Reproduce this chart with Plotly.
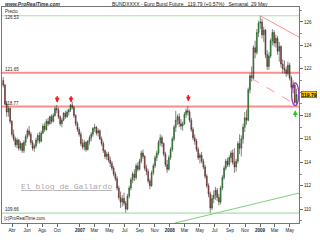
import pandas as pd
import plotly.graph_objects as go

# ---------------- data (weekly candles, Euro Bund Future) ----------------
open_2006 = [121.0,120.6,119.0,118.3,118.6,117.5,116.4,116.0,115.5,115.9,115.2,115.6,115.0,115.7,116.2,116.7,116.4,115.7,115.2,115.4,115.9,116.3,115.8,116.5,117.1,116.8,117.5,117.3,117.9,117.5,118.0,118.6,118.5,117.9,117.3,117.6,118.2,117.9,118.3,118.5,118.9,118.7,118.0,117.3,116.8]
high_2006 = [121.3,120.7,119.2,118.8,118.7,117.6,116.8,116.2,116.1,116.0,115.8,115.7,115.9,116.4,116.9,117.1,116.6,115.9,115.6,116.1,116.5,116.6,116.7,117.3,117.4,117.7,117.8,118.0,118.1,118.2,118.8,118.9,118.7,118.0,117.8,118.3,118.4,118.5,118.6,119.0,119.2,118.8,118.1,117.5,117.0]
low_2006 = [120.4,118.9,117.9,117.9,117.3,116.2,115.8,115.3,115.2,115.0,115.0,114.8,114.8,115.4,116.0,116.2,115.5,115.0,114.9,115.2,115.6,115.6,115.7,116.4,116.6,116.7,117.1,117.2,117.3,117.4,117.9,118.2,117.7,117.1,117.0,117.5,117.7,117.8,118.0,118.3,118.5,117.8,117.1,116.6,116.2]
close_2006 = [120.6,119.0,118.3,118.6,117.5,116.4,116.0,115.5,115.9,115.2,115.6,115.0,115.7,116.2,116.7,116.4,115.7,115.2,115.4,115.9,116.3,115.8,116.5,117.1,116.8,117.5,117.3,117.9,117.5,118.0,118.6,118.5,117.9,117.3,117.6,118.2,117.9,118.3,118.5,118.9,118.7,118.0,117.3,116.8,116.4]

open_2007 = [116.4,115.6,115.3,115.7,115.1,115.8,116.1,116.4,116.9,117.0,116.5,116.7,116.0,115.6,115.0,114.5,114.7,114.2,113.9,113.5,113.0,112.6,111.8,111.0,110.6,110.9,110.5,110.0,111.1,111.8,112.5,113.0,112.7,113.7,113.4,114.1,114.8,114.5,113.5,113.2,112.4,112.0,113.1,113.7,114.4,114.8,115.7,116.1,115.6,114.7,113.8,113.4]
high_2007 = [116.6,116.0,115.9,115.8,115.9,116.3,116.6,117.0,117.3,117.1,116.9,116.8,116.2,115.8,115.1,114.9,114.9,114.5,114.1,113.7,113.2,112.8,112.0,111.5,111.2,111.4,110.7,111.3,112.0,112.7,113.2,113.4,113.9,114.0,114.3,115.0,115.1,114.6,113.8,113.4,112.6,113.3,113.9,114.6,115.0,115.9,116.4,116.3,115.7,114.9,114.2,114.6]
low_2007 = [115.4,115.1,115.0,114.9,115.0,115.5,115.8,116.2,116.6,116.3,116.2,115.9,115.4,114.8,114.3,114.2,114.0,113.6,113.3,112.8,112.4,111.6,110.8,110.1,110.2,110.3,109.7,109.9,110.9,111.6,112.2,112.4,112.5,113.2,113.3,113.9,114.3,113.3,112.9,112.2,111.7,111.9,112.9,113.5,114.1,114.6,115.4,115.3,114.5,113.6,113.1,113.3]
close_2007 = [115.6,115.3,115.7,115.1,115.8,116.1,116.4,116.9,117.0,116.5,116.7,116.0,115.6,115.0,114.5,114.7,114.2,113.9,113.5,113.0,112.6,111.8,111.0,110.6,110.9,110.5,110.0,111.1,111.8,112.5,113.0,112.7,113.7,113.4,114.1,114.8,114.5,113.5,113.2,112.4,112.0,113.1,113.7,114.4,114.8,115.7,116.1,115.6,114.7,113.8,113.4,114.4]

open_2008 = [114.4,115.1,116.0,117.0,117.6,117.9,117.3,117.1,117.3,118.1,118.4,118.3,117.6,116.8,116.1,115.8,115.1,114.4,114.6,114.1,113.6,112.8,112.0,111.3,110.1,110.9,111.2,111.6,111.0,110.6,111.8,112.7,113.5,114.1,113.8,114.4,114.8,114.0,113.6,114.1,115.6,115.2,116.0,117.0,117.8,117.6,120.2,121.4,121.2,123.8,123.4,125.1]
high_2008 = [115.3,116.2,117.2,118.4,118.1,118.2,117.7,117.5,118.3,118.6,118.8,118.5,117.8,117.0,116.4,116.0,115.3,114.8,114.9,114.3,113.8,113.0,112.2,111.5,111.2,111.6,111.9,111.8,111.3,112.0,112.9,113.7,114.3,114.4,114.6,115.0,115.1,115.2,114.3,115.8,116.4,116.3,117.3,118.3,118.5,120.4,121.6,122.2,124.0,124.4,125.4,126.1]
low_2008 = [114.2,114.9,115.8,116.6,117.2,117.0,116.8,116.7,117.2,117.8,118.0,117.4,116.6,115.9,115.5,114.9,114.2,113.9,113.9,113.4,112.6,111.8,111.0,109.7,109.9,110.5,110.8,110.7,110.3,110.4,111.6,112.5,113.3,113.6,113.6,114.0,113.8,113.1,113.2,113.9,114.7,114.5,115.6,116.6,117.2,117.5,119.9,120.9,121.0,122.9,123.2,124.7]
close_2008 = [115.1,116.0,117.0,117.6,117.9,117.3,117.1,117.3,118.1,118.4,118.3,117.6,116.8,116.1,115.8,115.1,114.4,114.6,114.1,113.6,112.8,112.0,111.3,110.1,110.9,111.2,111.6,111.0,110.6,111.8,112.7,113.5,114.1,113.8,114.4,114.8,114.0,113.6,114.1,115.6,115.2,116.0,117.0,117.8,117.6,120.2,121.4,121.2,123.8,123.4,125.1,125.9]

open_2009 = [125.9,126.0,124.9,125.3,123.2,122.2,123.1,124.4,125.1,124.2,124.6,123.5,123.9,122.4,122.0,121.9,121.6,122.3,121.2,120.4,120.6,119.11]
high_2009 = [126.53,126.3,125.6,125.4,123.6,123.4,124.6,125.4,125.3,124.9,124.8,124.3,124.0,122.8,122.7,122.2,122.6,122.5,121.4,121.0,120.8,120.3]
low_2009 = [125.4,124.6,124.3,122.9,121.9,121.9,122.9,124.0,123.9,123.8,123.2,122.6,122.1,121.6,121.6,121.3,121.4,121.0,120.2,119.9,119.0,118.85]
close_2009 = [126.0,124.9,125.3,123.2,122.2,123.1,124.4,125.1,124.2,124.6,123.5,123.9,122.4,122.0,121.9,121.6,122.3,121.2,120.4,120.6,119.11,119.79]

first_week = "2006-02-24"

# horizontal levels
high_level = 126.53
low_level = 109.66
red_levels = [121.65, 118.77]

# trend lines (date, price)
red_trend_dates = ["2009-01-02", "2009-06-08"]
red_trend_prices = [126.53, 124.7]
dash_trend_dates = ["2008-11-26", "2009-05-24"]
dash_trend_prices = [121.2, 118.95]
green_trend_dates = ["2008-01-21", "2009-06-08"]
green_trend_prices = [108.8, 111.37]

# signal arrows
down_arrow_dates = ["2006-10-01", "2006-11-26", "2008-03-16"]
down_arrow_prices = [119.1, 119.1, 119.2]
up_arrow_dates = ["2009-05-24"]
up_arrow_prices = [118.45]

# highlight ellipse
ellipse_dates = ["2009-05-09", "2009-06-07"]
ellipse_prices = [118.85, 120.8]

last_price = 119.79

tick_dates = ["2006-04-01", "2006-06-01", "2006-08-01", "2006-10-01", "2007-01-01", "2007-03-01",
              "2007-05-01", "2007-07-01", "2007-09-01", "2007-11-01", "2008-01-01", "2008-03-01",
              "2008-05-01", "2008-07-01", "2008-09-01", "2008-11-01", "2009-01-01", "2009-03-01",
              "2009-05-01"]
tick_text = ["Abr", "Jun", "Ago", "Oct", "<b>2007</b>", "Mar", "May", "Jul", "Sep", "Nov",
             "<b>2008</b>", "Mar", "May", "Jul", "Sep", "Nov", "<b>2009</b>", "Mar", "May"]
y_ticks = [110, 112, 114, 116, 118, 122, 124, 126]

x_range = ["2006-02-19", "2009-06-08"]
y_range = [108.81, 127.28]

# ---------------- figure ----------------
opens = open_2006 + open_2007 + open_2008 + open_2009
highs = high_2006 + high_2007 + high_2008 + high_2009
lows = low_2006 + low_2007 + low_2008 + low_2009
closes = close_2006 + close_2007 + close_2008 + close_2009
dates = pd.date_range(first_week, periods=len(closes), freq="W-FRI")

fig = go.Figure()
fig.add_trace(go.Candlestick(
    x=dates, open=opens, high=highs, low=lows, close=closes,
    increasing=dict(fillcolor="#1fb81f", line=dict(color="#264026", width=0.6)),
    decreasing=dict(fillcolor="#c83a3a", line=dict(color="#402626", width=0.6)),
    whiskerwidth=0, hoverinfo="skip", showlegend=False))

shapes = []
for lv in [high_level, low_level]:
    shapes.append(dict(type="line", xref="paper", x0=0, x1=1, yref="y", y0=lv, y1=lv,
                       line=dict(color="#a8e0a8", width=1.2), layer="below"))
for lv in red_levels:
    shapes.append(dict(type="line", xref="paper", x0=0, x1=1, yref="y", y0=lv, y1=lv,
                       line=dict(color="#ff8c8c", width=2), layer="below"))
shapes.append(dict(type="line", xref="x", yref="y", x0=red_trend_dates[0], x1=red_trend_dates[1],
                   y0=red_trend_prices[0], y1=red_trend_prices[1],
                   line=dict(color="#ff9090", width=1)))
shapes.append(dict(type="line", xref="x", yref="y", x0=dash_trend_dates[0], x1=dash_trend_dates[1],
                   y0=dash_trend_prices[0], y1=dash_trend_prices[1],
                   line=dict(color="#ff9a9a", width=1, dash="dash")))
shapes.append(dict(type="line", xref="x", yref="y", x0=green_trend_dates[0], x1=green_trend_dates[1],
                   y0=green_trend_prices[0], y1=green_trend_prices[1],
                   line=dict(color="#7ccf7c", width=1)))
shapes.append(dict(type="circle", xref="x", yref="y", x0=ellipse_dates[0], x1=ellipse_dates[1],
                   y0=ellipse_prices[0], y1=ellipse_prices[1],
                   line=dict(color="#9a36c8", width=1.3)))

small = dict(family="Liberation Sans, Arial", size=4.5, color="#222")
ann = []
# top-left header block: "Precio" over the high level value
ann.append(dict(xref="paper", yref="paper", x=0.004, y=1.0, xanchor="left", yanchor="top",
                text="Precio<br>%.2f" % high_level, showarrow=False, align="left", yshift=0.5,
                font=small))
for lv in [low_level] + red_levels:
    ann.append(dict(xref="paper", yref="y", x=0.004, y=lv, text="%.2f" % lv, showarrow=False,
                    xanchor="left", yanchor="bottom", font=small, yshift=-1))
for d, p in zip(down_arrow_dates, down_arrow_prices):
    ann.append(dict(xref="x", yref="y", x=d, y=p, text="", showarrow=True, ax=0, ay=-8,
                    arrowhead=2, arrowsize=0.6, arrowwidth=1.6, arrowcolor="#ee1c1c"))
for d, p in zip(up_arrow_dates, up_arrow_prices):
    ann.append(dict(xref="x", yref="y", x=d, y=p, text="", showarrow=True, ax=0, ay=8,
                    arrowhead=2, arrowsize=0.6, arrowwidth=1.6, arrowcolor="#22cc22"))
ann.append(dict(xref="paper", yref="y", x=1, y=last_price, xanchor="left", xshift=2,
                text="<b>%.2f</b>" % last_price, showarrow=False, bgcolor="#ffcc00",
                bordercolor="#333", borderwidth=0.5, borderpad=0,
                font=dict(family="Liberation Sans, Arial", size=5, color="#000")))
ann.append(dict(xref="paper", yref="paper", x=0.057, y=0.171, xanchor="left", yanchor="middle",
                text="<u>El blog de Gallardo</u>", showarrow=False,
                font=dict(family="Liberation Mono, Courier New", size=8, color="#a8a8a8")))
ann.append(dict(xref="paper", yref="paper", x=0.003, y=1.016, xanchor="left", yanchor="middle",
                text="<b><i>www.ProRealTime.com</i></b>", showarrow=False,
                font=dict(family="Liberation Sans, Arial", size=5, color="#333")))
ann.append(dict(xref="paper", yref="paper", x=0.364, y=1.016, xanchor="left", yanchor="middle",
                text="BUNDXXXX - Euro Bund Future\u00a0\u00a0\u00a0%.2f (+0.57%%)\u00a0\u00a0\u00a0Semanal\u00a0\u00a029 May" % last_price,
                showarrow=False, font=dict(family="Liberation Sans, Arial", size=5, color="#222")))
ann.append(dict(xref="paper", yref="paper", x=0.0, y=0.0, xanchor="left", yanchor="bottom",
                text="(c)ProRealTime.com", showarrow=False, font=small))

fig.update_layout(
    width=320, height=240,
    margin=dict(l=2, r=21, t=7, b=17),
    paper_bgcolor="white", plot_bgcolor="white",
    showlegend=False,
    shapes=shapes, annotations=ann,
    xaxis=dict(range=x_range, rangeslider=dict(visible=False), tickvals=tick_dates,
               ticktext=tick_text, ticks="outside", ticklen=3, tickcolor="#666",
               tickfont=dict(family="Liberation Sans, Arial", size=4.5, color="#222"),
               showgrid=False, zeroline=False, showline=True, linecolor="#777",
               linewidth=1, mirror=True, tickangle=0),
    yaxis=dict(range=y_range, side="right", tickvals=y_ticks, ticks="outside", ticklen=3,
               tickcolor="#666", tickfont=dict(family="Liberation Sans, Arial", size=4.5, color="#222"),
               showgrid=False, zeroline=False, showline=True, linecolor="#777", linewidth=1,
               mirror=True, minor=dict(dtick=1, ticks="outside", ticklen=2, tickcolor="#888")),
)

fig.write_html("out.html")
